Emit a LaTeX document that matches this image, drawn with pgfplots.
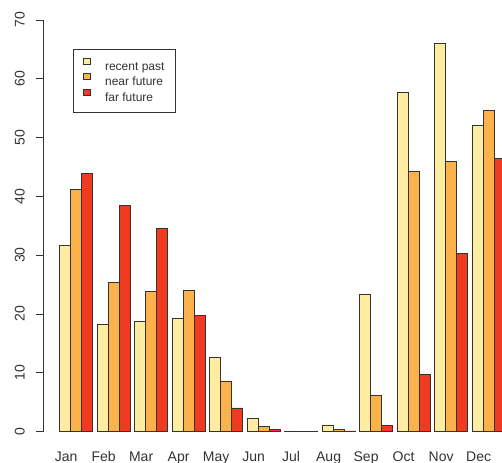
\documentclass[border=0pt]{standalone}
\usepackage{fontspec}
\setmainfont{Liberation Sans}
\usepackage{pgfplots}
\pgfplotsset{compat=1.18}
\usepackage{pgfplotstable}

\definecolor{recent}{HTML}{FEEDA0}
\definecolor{nearf}{HTML}{FDB14B}
\definecolor{farf}{HTML}{F03B20}
\definecolor{ink}{HTML}{333333}

% month index, then the three scenarios
\pgfplotstableread{
m  recent near  far
0  31.6   41.2  43.9
1  18.2   25.4  38.5
2  18.7   23.8  34.5
3  19.2   24.0  19.7
4  12.6    8.6   4.0
5   2.2    0.8   0.3
6   0.1    0.05  0.05
7   1.1    0.3   0.1
8  23.3    6.2   1.0
9  57.6   44.3   9.7
10 66.0   45.9  30.3
11 52.1   54.6  46.5
}\heat

\begin{document}
\begin{tikzpicture}
\begin{axis}[
    at={(43bp,31.5bp)}, anchor=south west,
    scale only axis, width=468.7bp, height=411.6bp,
    xmin=-1.496, xmax=41, ymin=0, ymax=70,
    axis y line*=left, axis x line*=bottom,
    x axis line style={draw=none},
    y axis line style={draw=ink, line width=0.7bp},
    tick align=outside, major tick length=7bp,
    ytick={0,10,...,70},
    y tick style={draw=ink, line width=0.7bp},
    x tick style={draw=none},
    xtick={0.6,4.0,7.4,10.8,14.2,17.6,21.0,24.4,27.8,31.2,34.6,38.0},
    xticklabels={Jan,Feb,Mar,Apr,May,Jun,Jul,Aug,Sep,Oct,Nov,Dec},
    /pgf/number format/assume math mode=true,
    tick label style={font=\fontsize{14bp}{16bp}\selectfont, text=ink},
    yticklabel style={rotate=90, anchor=south, inner sep=0pt},
    yticklabel shift=11bp,
    xticklabel style={anchor=base, inner sep=0pt},
    xticklabel shift=22.5bp,
    legend style={at={(0.063,0.9285)}, anchor=north west,
        draw=ink, line width=0.6bp, inner xsep=10.6bp, inner ysep=8.5bp,
        row sep=0pt,
        font=\fontsize{12bp}{14bp}\selectfont, text=ink,
        nodes={inner sep=0pt, text height=11bp, text depth=3bp}},
    legend cell align=left,
    legend image code/.code={
        \draw[#1, line width=0.6bp] (0bp,2bp) rectangle (7bp,8bp);
        \path (21bp,0bp);
    },
]
\addplot[ybar, bar width=1, fill=recent, draw=ink, line width=0.7bp]
    table[x expr=\thisrow{m}*3.4+0.5, y=recent] {\heat};
\addlegendentry{recent past}
\addplot[ybar, bar width=1, fill=nearf, draw=ink, line width=0.7bp]
    table[x expr=\thisrow{m}*3.4+1.5, y=near] {\heat};
\addlegendentry{near future}
\addplot[ybar, bar width=1, fill=farf, draw=ink, line width=0.7bp]
    table[x expr=\thisrow{m}*3.4+2.5, y=far] {\heat};
\addlegendentry{far future}
\end{axis}
\pgfresetboundingbox
\useasboundingbox (0,0) rectangle (502bp,463bp);
\end{tikzpicture}
\end{document}
